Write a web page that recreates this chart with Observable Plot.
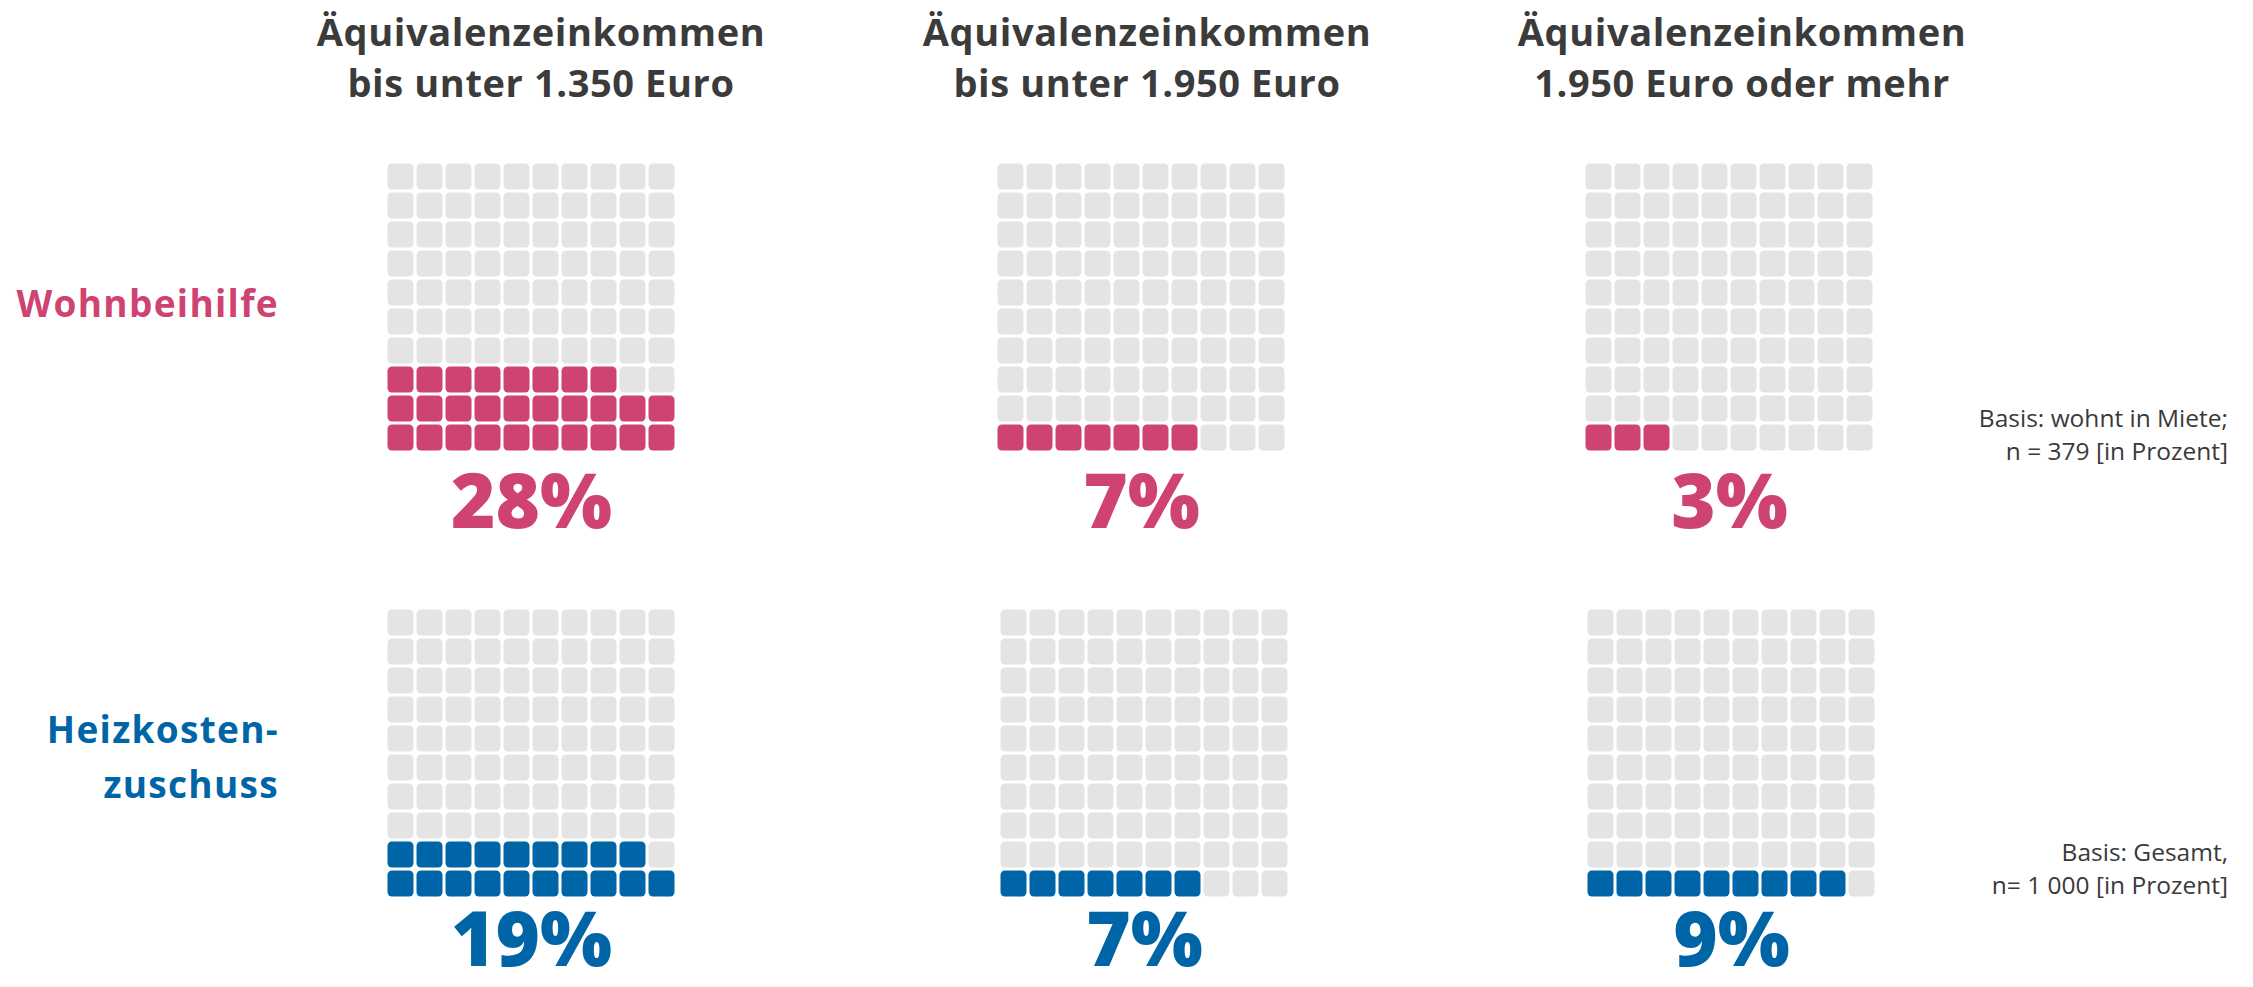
<!DOCTYPE html>
<html>
<head>
<meta charset="utf-8">
<script src="https://cdn.jsdelivr.net/npm/d3@7"></script>
<script src="https://cdn.jsdelivr.net/npm/@observablehq/plot@0.6"></script>
<style>
  html, body { margin: 0; padding: 0; background: #ffffff; }
  #page { position: relative; width: 2253px; height: 987px; overflow: hidden; font-family: "Open Sans", "Noto Sans", sans-serif; }
  .title { position: absolute; width: 700px; text-align: center; font-weight: 700; font-size: 38px; line-height: 51px; color: #3b3b3b; white-space: pre; letter-spacing: 0.6px; }
  .rowlabel { position: absolute; right: calc(2253px - 279px); text-align: right; font-weight: 700; font-size: 37px; line-height: 55px; white-space: pre; letter-spacing: 1.3px; }
  .note { position: absolute; right: 25px; text-align: right; font-size: 24.5px; line-height: 33px; color: #3a3a3a; white-space: pre; }
  .panel { position: absolute; }
</style>
</head>
<body>
<div id="page"></div>
<script>
// ---- data ----
const incomeGroups = [
  "Äquivalenzeinkommen\nbis unter 1.350 Euro",
  "Äquivalenzeinkommen\nbis unter 1.950 Euro",
  "Äquivalenzeinkommen\n1.950 Euro oder mehr"
];
const measures = ["Wohnbeihilfe", "Heizkosten-\nzuschuss"];
const wohnbeihilfe = [28, 7, 3];
const heizkostenzuschuss = [19, 7, 9];
const notes = [
  "Basis: wohnt in Miete;\nn = 379 [in Prozent]",
  "Basis: Gesamt,\nn= 1 000 [in Prozent]"
];

// ---- styles / layout ----
const measureColors = ["#cf4371", "#0065a6"];
const emptyColor = "#e4e4e4";
const gridLeft = [[384, 994.5, 1582.5], [384, 997.5, 1584]];
const gridTop = [160, 606.5];
const labelDy = [19, 11];
const titleCenters = [541, 1147, 1742];
const labelTops = [275, 701];
const noteTops = [401, 835];
const pitch = 29.6;
const inset = 1.5;
const pctSize = 76;

const page = document.getElementById("page");

// titles
incomeGroups.forEach((t, i) => {
  const d = document.createElement("div");
  d.className = "title";
  d.textContent = t;
  d.style.left = (titleCenters[i] - 350) + "px";
  d.style.top = "6px";
  page.appendChild(d);
});

// row labels
measures.forEach((m, r) => {
  const d = document.createElement("div");
  d.className = "rowlabel";
  d.textContent = m;
  d.style.color = measureColors[r];
  d.style.top = labelTops[r] + "px";
  page.appendChild(d);
});

// notes
notes.forEach((n, r) => {
  const d = document.createElement("div");
  d.className = "note";
  d.textContent = n;
  d.style.top = noteTops[r] + "px";
  page.appendChild(d);
});

// waffle panels
const values = [wohnbeihilfe, heizkostenzuschuss];
values.forEach((series, r) => {
  series.forEach((value, c) => {
    const cells = d3.range(100).map(i => ({
      col: i % 10,
      row: Math.floor(i / 10),
      filled: i < value
    }));
    const frame = pitch * 10;
    const mb = labelDy[r] + pctSize + 2;
    const chart = Plot.plot({
      width: frame,
      height: frame + mb,
      marginTop: 0, marginLeft: 0, marginRight: 0, marginBottom: mb,
      x: { type: "band", domain: d3.range(10), padding: 0, axis: null },
      y: { type: "band", domain: d3.range(10).reverse(), padding: 0, axis: null },
      color: { type: "identity" },
      style: { background: "transparent", overflow: "visible" },
      marks: [
        Plot.cell(cells, {
          x: "col", y: "row",
          fill: d => d.filled ? measureColors[r] : emptyColor,
          inset, rx: 4.5
        }),
        Plot.text([value], {
          text: d => d + "%",
          frameAnchor: "bottom",
          lineAnchor: "top",
          dy: labelDy[r],
          fontSize: pctSize,
          fontWeight: 800,
          fontFamily: "'Open Sans', 'Noto Sans', sans-serif",
          fill: measureColors[r]
        })
      ]
    });
    const wrap = document.createElement("div");
    wrap.className = "panel";
    wrap.style.left = (gridLeft[r][c] - inset) + "px";
    wrap.style.top = (gridTop[r] - inset) + "px";
    wrap.appendChild(chart);
    page.appendChild(wrap);
  });
});
</script>
</body>
</html>
